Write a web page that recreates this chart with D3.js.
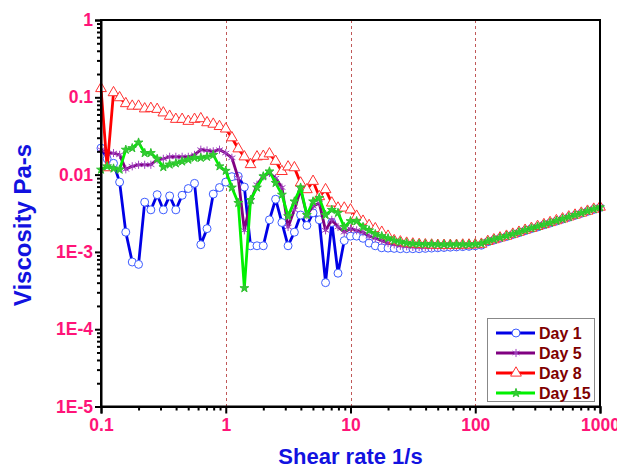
<!DOCTYPE html>
<html>
<head>
<meta charset="utf-8">
<script src="https://cdn.jsdelivr.net/npm/d3@7"></script>
<style>
  body { margin: 0; background: #fff; }
  text { font-family: "Liberation Sans", Arial, sans-serif; font-weight: bold; }
</style>
</head>
<body>
<div id="chart"></div>
<script>
// shear rate grid (1/s)
var shearRate = [0.1, 0.112, 0.126, 0.141, 0.158, 0.178, 0.2, 0.224, 0.251, 0.282,
  0.316, 0.355, 0.398, 0.447, 0.501, 0.562, 0.631, 0.708, 0.794, 0.891,
  1, 1.12, 1.26, 1.41, 1.58, 1.78, 2, 2.24, 2.51, 2.82,
  3.16, 3.55, 3.98, 4.47, 5.01, 5.62, 6.31, 7.08, 7.94, 8.91,
  10, 11.2, 12.6, 14.1, 15.8, 17.8, 20, 22.4, 25.1, 28.2,
  31.6, 35.5, 39.8, 44.7, 50.1, 56.2, 63.1, 70.8, 79.4, 89.1,
  100, 112, 126, 141, 158, 178, 200, 224, 251, 282,
  316, 355, 398, 447, 501, 562, 631, 708, 794, 891, 1000];

// viscosity Pa-s
var day1 = [0.022, 0.016, 0.014, 0.008, 0.0018, 0.00074, 0.00069, 0.0044, 0.0035, 0.0055,
  0.0035, 0.0053, 0.0035, 0.0054, 0.0066, 0.0077, 0.00124, 0.002, 0.0056, 0.0068,
  0.008, 0.0094, 0.0095, 0.0069, 0.0012, 0.0012, 0.0012, 0.0026, 0.0048, 0.0024,
  0.0012, 0.0018, 0.003, 0.0022, 0.0032, 0.0026, 0.0004, 0.0024, 0.00053, 0.0014,
  0.0016, 0.0016, 0.0015, 0.0013, 0.0012, 0.00113, 0.00112, 0.00111, 0.0011, 0.0011,
  0.0011, 0.0011, 0.00111, 0.00112, 0.00113, 0.00114, 0.00115, 0.00116, 0.00117, 0.00118,
  0.0012, 0.00122, 0.00135, 0.00142, 0.0015, 0.00158, 0.00168, 0.00177, 0.00188, 0.002,
  0.0021, 0.00224, 0.00236, 0.0025, 0.00265, 0.0028, 0.00297, 0.00315, 0.00334, 0.00354, 0.00375];

var day5 = [0.021, 0.019, 0.019, 0.018, 0.0117, 0.0128, 0.0134, 0.0134, 0.0134, 0.0157,
  0.016, 0.017, 0.017, 0.017, 0.017, 0.018, 0.021, 0.0205, 0.02, 0.021,
  0.019, 0.0165, 0.009, 0.0019, 0.0045, 0.0074, 0.0095, 0.0105, 0.009, 0.0068,
  0.0021, 0.0035, 0.0064, 0.003, 0.0039, 0.0043, 0.0019, 0.0026, 0.0021, 0.0018,
  0.002, 0.0019, 0.0018, 0.0016, 0.0015, 0.0014, 0.0013, 0.00125, 0.0012, 0.00118,
  0.00116, 0.00115, 0.00115, 0.00116, 0.00116, 0.00117, 0.00118, 0.00118, 0.00119, 0.0012,
  0.00121, 0.00124, 0.00136, 0.00143, 0.00151, 0.0016, 0.00169, 0.00179, 0.0019, 0.00201,
  0.00212, 0.00225, 0.00238, 0.00252, 0.00266, 0.00282, 0.00298, 0.00316, 0.00335, 0.00356, 0.00378];

var day8 = [0.13, 0.0123, 0.115, 0.099, 0.083, 0.077, 0.077, 0.071, 0.072, 0.07,
  0.063, 0.057, 0.052, 0.052, 0.049, 0.052, 0.053, 0.047, 0.045, 0.042,
  0.039, 0.03, 0.0216, 0.017, 0.0135, 0.017, 0.0173, 0.0186, 0.0149, 0.011,
  0.0126, 0.0123, 0.0078, 0.0064, 0.0082, 0.0052, 0.0064, 0.0043, 0.0037, 0.0037,
  0.0035, 0.0029, 0.0025, 0.0022, 0.002, 0.0018, 0.0016, 0.0014, 0.00135, 0.0013,
  0.00127, 0.00125, 0.00124, 0.00123, 0.00122, 0.00122, 0.00122, 0.00122, 0.00123, 0.00123,
  0.00124, 0.00126, 0.00137, 0.00144, 0.00152, 0.0016, 0.0017, 0.0018, 0.00191, 0.00202,
  0.00214, 0.00226, 0.0024, 0.00254, 0.00268, 0.00284, 0.003, 0.00318, 0.00337, 0.00358, 0.0038];

var day15 = [0.0116, 0.0128, 0.012, 0.0116, 0.021, 0.022, 0.026, 0.019, 0.019, 0.016,
  0.0125, 0.0135, 0.014, 0.0148, 0.0156, 0.0165, 0.0165, 0.017, 0.018, 0.0128,
  0.0112, 0.0068, 0.0043, 0.00034, 0.0047, 0.0068, 0.0095, 0.011, 0.0078, 0.0055,
  0.0029, 0.0045, 0.0068, 0.003, 0.0045, 0.005, 0.003, 0.0035, 0.0032, 0.0021,
  0.0025, 0.0025, 0.0021, 0.0019, 0.0017, 0.0016, 0.0015, 0.0014, 0.00135, 0.0013,
  0.00128, 0.00127, 0.00126, 0.00126, 0.00125, 0.00125, 0.00125, 0.00125, 0.00125, 0.00125,
  0.00126, 0.00128, 0.00137, 0.00145, 0.00153, 0.00161, 0.0017, 0.0018, 0.00191, 0.00202,
  0.00213, 0.00226, 0.00239, 0.00253, 0.00267, 0.00283, 0.003, 0.00318, 0.00337, 0.00357, 0.00378];

var seriesNames = ["Day 1", "Day 5", "Day 8", "Day 15"];
var xTicks = [0.1, 1, 10, 100, 1000];
var xTickLabels = ["0.1", "1", "10", "100", "1000"];
var yTicks = [1e-5, 1e-4, 1e-3, 0.01, 0.1, 1];
var yTickLabels = ["1E-5", "1E-4", "1E-3", "0.01", "0.1", "1"];
var gridLines = [1, 10, 100];

var series = [
  {name: seriesNames[0], values: day1, line: "#0000e6", mark: "#3d5cff", symbol: d3.symbolCircle, size: 50, fill: "#fff"},
  {name: seriesNames[1], values: day5, line: "#800080", mark: "#a040c0", symbol: d3.symbolAsterisk, size: 46, fill: "none"},
  {name: seriesNames[2], values: day8, line: "#ff0000", mark: "#ff3030", symbol: d3.symbolTriangle, size: 50, fill: "#fff"},
  {name: seriesNames[3], values: day15, line: "#00f000", mark: "#30c030", symbol: d3.symbolStar, size: 24, fill: "#30d030"}
];

var width = 617, height = 468;
var margin = {top: 20, right: 17, bottom: 62, left: 101};

var svg = d3.select("#chart")
  .append("svg")
  .attr("width", width)
  .attr("height", height)
  .style("background", "#fff");

var xScale = d3.scaleLog()
  .domain([0.1, 1000])
  .range([margin.left, width - margin.right]);

var yScale = d3.scaleLog()
  .domain([1e-5, 1])
  .range([height - margin.bottom + 0.5, margin.top]);

// minor tick values, 2..9 in each decade
function minors(lo, hi) {
  var out = [];
  for (var e = lo; e < hi; e++) {
    for (var k = 2; k <= 9; k++) out.push(k * Math.pow(10, e));
  }
  return out;
}

// dotted guide lines at each decade
svg.append("g")
  .selectAll("line")
  .data(gridLines)
  .enter()
  .append("line")
  .attr("x1", function(d) { return Math.round(xScale(d)) + 0.5; })
  .attr("x2", function(d) { return Math.round(xScale(d)) + 0.5; })
  .attr("y1", yScale(1))
  .attr("y2", yScale(1e-5))
  .attr("stroke", "#c05858")
  .attr("stroke-width", 1)
  .attr("stroke-dasharray", "3,3");

// curves
var line = d3.line()
  .x(function(d) { return xScale(d[0]); })
  .y(function(d) { return yScale(d[1]); });

series.forEach(function(s) {
  var pts = shearRate.map(function(x, i) { return [x, s.values[i]]; });
  var g = svg.append("g").attr("class", "series");
  g.append("path")
    .datum(pts)
    .attr("fill", "none")
    .attr("stroke", s.line)
    .attr("stroke-width", 2.8)
    .attr("stroke-linejoin", "round")
    .attr("d", line);
  g.selectAll(".pt")
    .data(pts)
    .enter()
    .append("path")
    .attr("class", "pt")
    .attr("transform", function(d) { return "translate(" + xScale(d[0]) + "," + yScale(d[1]) + ")"; })
    .attr("d", d3.symbol().type(s.symbol).size(s.size))
    .attr("fill", s.fill)
    .attr("stroke", s.mark)
    .attr("stroke-width", 1);
});

// axes
svg.append("g")
  .attr("transform", "translate(0," + yScale(1e-5) + ")")
  .call(d3.axisBottom(xScale)
    .tickValues(xTicks)
    .tickSize(7)
    .tickPadding(5)
    .tickFormat(function(d, i) { return xTickLabels[i]; }));

svg.append("g")
  .attr("transform", "translate(0," + yScale(1e-5) + ")")
  .call(d3.axisBottom(xScale).tickValues(minors(-1, 3)).tickSize(4).tickFormat(""))
  .call(function(g) { g.select(".domain").remove(); });

svg.append("g")
  .attr("transform", "translate(" + xScale(0.1) + ",0)")
  .call(d3.axisLeft(yScale)
    .tickValues(yTicks)
    .tickSize(6)
    .tickPadding(2)
    .tickFormat(function(d, i) { return yTickLabels[i]; }));

svg.append("g")
  .attr("transform", "translate(" + xScale(0.1) + ",0)")
  .call(d3.axisLeft(yScale).tickValues(minors(-5, 0)).tickSize(4).tickFormat(""))
  .call(function(g) { g.select(".domain").remove(); });

svg.selectAll(".tick line").attr("stroke", "#000").attr("stroke-width", 2);
svg.selectAll(".domain").attr("stroke", "#000").attr("stroke-width", 2);
svg.selectAll(".tick text")
  .attr("fill", "#ff1478")
  .style("font-size", "17.5px");

// frame
svg.append("rect")
  .attr("x", xScale(0.1))
  .attr("y", yScale(1))
  .attr("width", xScale(1000) - xScale(0.1))
  .attr("height", yScale(1e-5) - yScale(1))
  .attr("fill", "none")
  .attr("stroke", "#000")
  .attr("stroke-width", 2);

// axis titles
svg.append("text")
  .attr("x", (xScale(0.1) + xScale(1000)) / 2)
  .attr("y", 464)
  .attr("text-anchor", "middle")
  .attr("fill", "#1212e0")
  .style("font-size", "22px")
  .text("Shear rate 1/s");

svg.append("text")
  .attr("transform", "translate(31,225) rotate(-90)")
  .attr("text-anchor", "middle")
  .attr("fill", "#1212e0")
  .style("font-size", "24px")
  .text("Viscosity Pa-s");

// legend
var legend = svg.append("g").attr("transform", "translate(487,318)");
legend.append("rect")
  .attr("x", 0.5)
  .attr("y", 0.5)
  .attr("width", 107)
  .attr("height", 83)
  .attr("fill", "#fff")
  .attr("stroke", "#888")
  .attr("stroke-width", 1);

var entries = legend.selectAll(".entry")
  .data(series)
  .enter()
  .append("g")
  .attr("class", "entry")
  .attr("transform", function(d, i) { return "translate(0," + (15 + i * 20) + ")"; });

entries.append("line")
  .attr("x1", 9)
  .attr("x2", 48)
  .attr("stroke", function(d) { return d.line; })
  .attr("stroke-width", 2.8);

entries.append("path")
  .attr("transform", "translate(29,0)")
  .attr("d", function(d) { return d3.symbol().type(d.symbol).size(d.size)(); })
  .attr("fill", function(d) { return d.fill; })
  .attr("stroke", function(d) { return d.mark; })
  .attr("stroke-width", 1);

entries.append("text")
  .attr("x", 52)
  .attr("dy", "0.36em")
  .attr("fill", "#800000")
  .style("font-size", "16px")
  .text(function(d) { return d.name; });
</script>
</body>
</html>
